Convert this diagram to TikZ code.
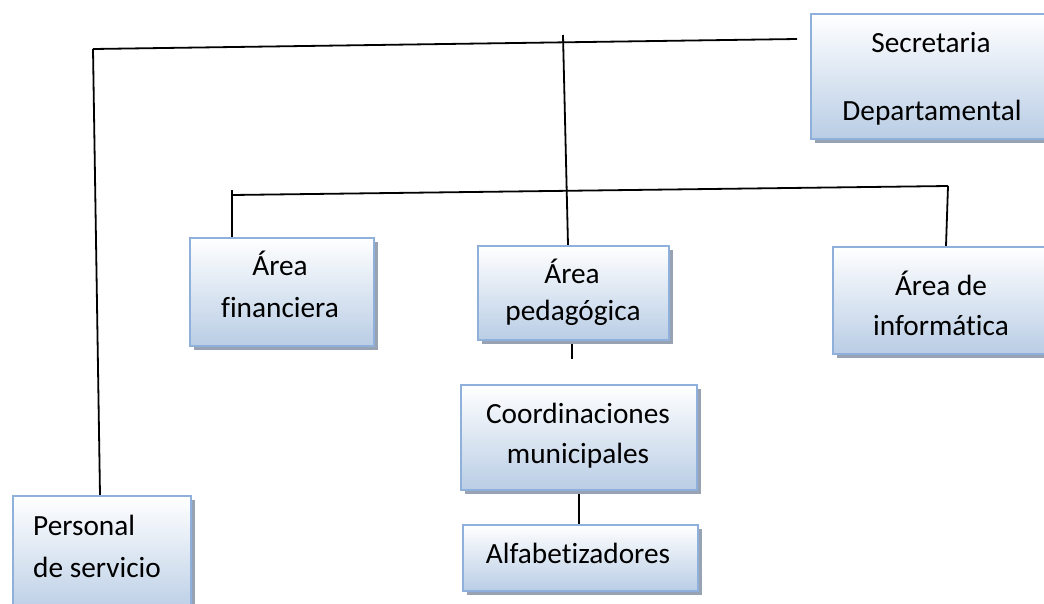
\documentclass[tikz,border=0pt]{standalone}
\usepackage{fontspec}
\setmainfont{Carlito}[Ligatures=NoCommon]
\usetikzlibrary{shadows}
\definecolor{boxborder}{HTML}{8EB0DA}
\definecolor{boxbottom}{HTML}{B9CDE5}
\definecolor{shadowcol}{HTML}{97A2B3}
\tikzset{
  orgbox/.style={draw=boxborder, line width=2pt, top color=white, bottom color=boxbottom,
    general shadow={fill=shadowcol, shadow xshift=4pt, shadow yshift=-4pt},
    inner sep=0pt, anchor=north west},
  lbl/.style={font=\fontsize{29.3}{34}\selectfont, inner sep=0pt, anchor=base},
  lbll/.style={font=\fontsize{29.3}{34}\selectfont, inner sep=0pt, anchor=base west},
  conn/.style={line width=1.8pt, black}
}
\begin{document}
\begin{tikzpicture}[x=1pt,y=-1pt]
\useasboundingbox (0,0) rectangle (1044,603);
\clip (0,0) rectangle (1044,603);

% connector points
\coordinate (tl) at (93,49);
\coordinate (tr) at (797,39);
\coordinate (mt) at (563,35);
\coordinate (mb) at (568,245);
\coordinate (pb) at (100,495);
\coordinate (hl) at (232,195);
\coordinate (hr) at (948,186);
\coordinate (fl) at (232,190);
\coordinate (fb) at (232,237);
\coordinate (ib) at (946,246);
\coordinate (st) at (572,342);
\coordinate (sb) at (572,359);
\coordinate (ct) at (579,494);
\coordinate (cb) at (579,524);

\draw[conn] (tl) -- (tr);
\draw[conn] (tl) -- (pb);
\draw[conn] (mt) -- (mb);
\draw[conn] (hl) -- (hr);
\draw[conn] (fl) -- (fb);
\draw[conn] (hr) -- (ib);
\draw[conn] (st) -- (sb);
\draw[conn] (ct) -- (cb);

% boxes
\node[orgbox, minimum width=240pt, minimum height=125pt] (sec) at (810,13) {};
\node[orgbox, minimum width=184pt, minimum height=108pt] (fin) at (189,237) {};
\node[orgbox, minimum width=191pt, minimum height=94pt] (ped) at (477,245) {};
\node[orgbox, minimum width=220pt, minimum height=107pt] (inf) at (832,246) {};
\node[orgbox, minimum width=236pt, minimum height=105pt] (coo) at (460,384) {};
\node[orgbox, minimum width=235pt, minimum height=66pt] (alf) at (462,524) {};
\node[orgbox, minimum width=178pt, minimum height=120pt] (per) at (12,495) {};

% labels
\node[lbl] (sec1) at (931,52) {Secretaria};
\node[lbl] (sec2) at (932,120) {Departamental};
\node[lbl] (fin1) at (280,275) {Área};
\node[lbl] (fin2) at (280,317) {financiera};
\node[lbl] (ped1) at (572,283) {Área};
\node[lbl] (ped2) at (573,320) {pedagógica};
\node[lbl] (inf1) at (941,295) {Área de};
\node[lbl] (inf2) at (941,335) {informática};
\node[lbl] (coo1) at (578,423) {Coordinaciones};
\node[lbl] (coo2) at (578,463) {municipales};
\node[lbl] (alf1) at (578,563) {Alfabetizadores};
\node[lbll] (per1) at (33,535) {Personal};
\node[lbll] (per2) at (33,577) {de servicio};
\end{tikzpicture}
\end{document}
